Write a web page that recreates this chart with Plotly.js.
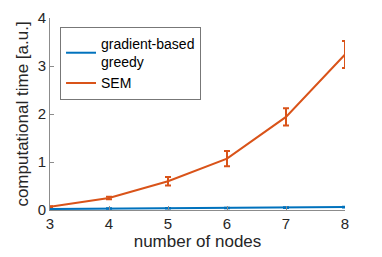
<!DOCTYPE html>
<html><head><meta charset="utf-8">
<script src="https://cdn.plot.ly/plotly-3.0.1.min.js"></script>
<style>html,body{margin:0;padding:0;background:#fff}#chart{width:382px;height:257px}</style>
</head><body><div id="chart"></div>
<script>
const nodes = [3, 4, 5, 6, 7, 8];
const greedyTime = [0.02, 0.03, 0.035, 0.04, 0.05, 0.06];
const greedyErr = [0.005, 0.005, 0.005, 0.005, 0.006, 0.008];
const semTime = [0.07, 0.25, 0.60, 1.07, 1.94, 3.24];
const semErr = [0.01, 0.025, 0.09, 0.16, 0.18, 0.28];
const seriesNames = ['gradient-based<br>greedy', 'SEM'];

const traces = [
  {x: nodes, y: greedyTime, name: seriesNames[0], type: 'scatter', mode: 'lines',
   line: {color: '#0072BD', width: 2},
   error_y: {type: 'data', array: greedyErr, visible: true, color: '#0072BD', thickness: 2, width: 3}},
  {x: nodes, y: semTime, name: seriesNames[1], type: 'scatter', mode: 'lines',
   line: {color: '#D95319', width: 2},
   error_y: {type: 'data', array: semErr, visible: true, color: '#D95319', thickness: 2, width: 3}}
];

const FONT = 'Liberation Sans, Arial, sans-serif';
const axisCommon = {
  showgrid: false, zeroline: false, showline: true, linecolor: '#8c8c8c', linewidth: 1,
  ticks: 'inside', ticklen: 4, tickcolor: '#8c8c8c',
  tickfont: {family: FONT, size: 15, color: '#262626'}
};

const layout = {
  width: 382, height: 257,
  margin: {l: 50, r: 37, t: 18, b: 47},
  paper_bgcolor: '#fff', plot_bgcolor: '#fff',
  showlegend: true,
  xaxis: Object.assign({}, axisCommon, {range: [3, 8], tickvals: nodes, ticktext: nodes.map(String),
    title: {text: 'number of nodes', font: {family: FONT, size: 17, color: '#262626'}, standoff: 4}}),
  yaxis: Object.assign({}, axisCommon, {range: [0, 4], tickvals: [0, 1, 2, 3, 4],
    title: {text: 'computational time [a.u.]', font: {family: FONT, size: 17, color: '#262626'}, standoff: 4}}),
  legend: {x: 0.034, y: 0.953, xanchor: 'left', yanchor: 'top',
    bgcolor: '#fff', bordercolor: '#777', borderwidth: 1,
    font: {family: FONT, size: 14, color: '#000'},
    tracegroupgap: 4}
};

Plotly.newPlot('chart', traces, layout, {staticPlot: true, displayModeBar: false});
</script></body></html>
